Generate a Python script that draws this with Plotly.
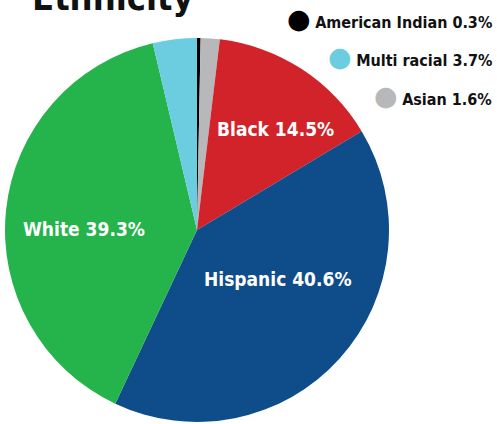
import plotly.graph_objects as go

labels = ["American Indian", "Asian", "Black", "Hispanic", "White", "Multi racial"]
values = [0.3, 1.6, 14.5, 40.6, 39.3, 3.7]
colors = ["#000000", "#b8b8ba", "#d2232a", "#0f4d8a", "#25b34b", "#6ccde1"]
legend_items = ["American Indian", "Multi racial", "Asian"]
inside_items = ["Black", "Hispanic", "White"]
title_text = "Ethnicity"

FONT = "Liberation Sans Narrow, DejaVu Sans Condensed, Roboto Condensed, Liberation Sans, Roboto, sans-serif"

W, H = 497, 424
ml, mr, mt, mb = 5, 3, 38, 2
plot_w = W - ml - mr
plot_h = H - mt - mb


def px_x(x):
    return (x - ml) / plot_w


def px_y(y):
    return (H - mb - y) / plot_h


fig = go.Figure(go.Pie(
    labels=labels,
    values=values,
    sort=False,
    direction="clockwise",
    rotation=0,
    marker=dict(colors=colors, line=dict(width=0)),
    textinfo="none",
    hoverinfo="label+percent",
    domain=dict(x=[0, plot_h / plot_w], y=[0, 1]),
    showlegend=False,
))

annotations = []
# title (partly cut off at the top edge, as in the reference)
annotations.append(dict(
    text=f"<b>{title_text}</b>", xref="paper", yref="paper",
    x=px_x(113), y=px_y(-2), xanchor="center", yanchor="middle", showarrow=False,
    font=dict(family=FONT, size=36, color="#111111"),
))

# slice labels (pixel positions of label centres)
label_pos = {"Black": (275, 129), "Hispanic": (278, 279), "White": (84, 229)}
for name in inside_items:
    i = labels.index(name)
    x, y = label_pos[name]
    annotations.append(dict(
        text=f"<b>{name} {values[i]}%</b>",
        xref="paper", yref="paper", x=px_x(x), y=px_y(y),
        xanchor="center", yanchor="middle", showarrow=False,
        font=dict(family=FONT, size=19, color="white"),
    ))

# legend rows (right-aligned)
ys = [18, 57, 95]
for name, ypx in zip(legend_items, ys):
    i = labels.index(name)
    annotations.append(dict(
        text=(f"<span style='color:{colors[i]};font-family:DejaVu Sans;font-size:27px'>●</span>"
              f" <b>{name} {values[i]}%</b>"),
        xref="paper", yref="paper", x=1, y=px_y(ypx),
        xanchor="right", yanchor="middle", showarrow=False,
        font=dict(family=FONT, size=16, color="#111111"),
    ))

fig.update_layout(
    width=W, height=H,
    margin=dict(l=ml, r=mr, t=mt, b=mb),
    paper_bgcolor="white", plot_bgcolor="white",
    annotations=annotations,
)

fig.write_html("out.html", config={"displayModeBar": False},
               post_script="document.body.style.margin='0';")
